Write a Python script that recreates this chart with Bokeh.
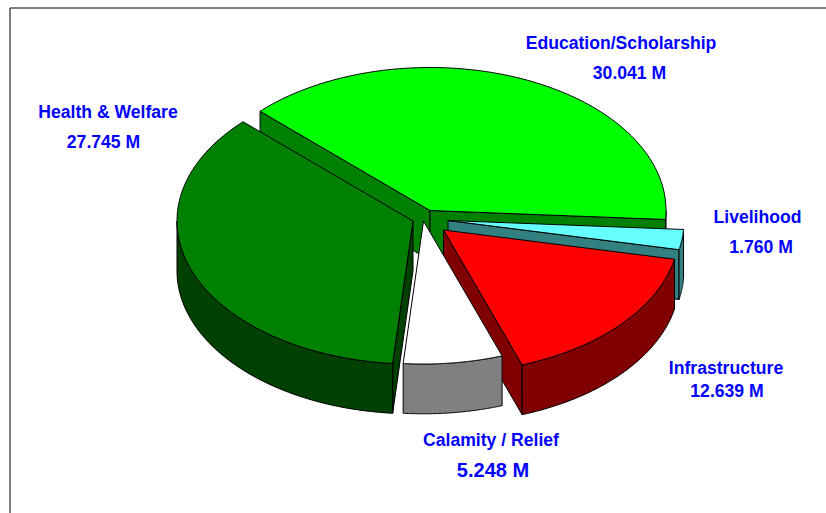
import numpy as np
from bokeh.plotting import figure
from bokeh.models import Range1d
from bokeh.core.properties import value
from bokeh.embed import file_html
from bokeh.resources import INLINE

# ---- data
categories = ["Education/Scholarship", "Health & Welfare", "Calamity / Relief", "Infrastructure", "Livelihood"]
amounts = [30.041, 27.745, 5.248, 12.639, 1.760]

# ---- styling and layout (reference pixels)
top_colors = ["#00FF00", "#008000", "#FFFFFF", "#FF0000", "#66FFFF"]
side_colors = ["#008000", "#004000", "#808080", "#800000", "#338080"]
apex_x = [429.5, 412.5, 423, 443, 447.5]
apex_y = [210, 220.5, 220.5, 229.5, 220]
name_pos = [(620.5, 42.5), (107.5, 111.5), (490.5, 439.5), (725.5, 367.5), (757, 216.5)]
amount_pos = [(629, 72.5), (103, 141.5), (492.5, 469.5), (726.5, 390.5), (760.5, 246.5)]
amount_px = [17.6, 17.6, 20, 17.6, 17.6]
paint_order = [0, 4, 3, 2, 1]
RX, RY, DEPTH = 236.0, 143.0, 49.8
START_DEG = -3.6

p = figure(width=826, height=513, output_backend="svg", toolbar_location=None,
           x_range=Range1d(0, 826), y_range=Range1d(513, 0),
           min_border=0, outline_line_color=None)
p.axis.visible = False
p.grid.visible = False
p.background_fill_color = "#FFFFFF"

# frame lines
p.line([9.5, 9.5, 826], [513, 7.5, 7.5], line_color="#000000", line_width=1)

fractions = np.array(amounts) / sum(amounts)
edges = START_DEG + np.concatenate([[0], np.cumsum(fractions) * 360.0])


def pt(ax, ay, deg):
    r = np.radians(deg)
    return ax + RX * np.cos(r), ay - RY * np.sin(r)


def face(xs, ys, color):
    p.patch(list(xs), list(ys), fill_color=color, line_color="#000000", line_width=1)


def radial_wall(ax, ay, deg, color):
    ex, ey = pt(ax, ay, deg)
    face([ax, ex, ex, ax], [ay, ey, ey + DEPTH, ay + DEPTH], color)


for i in paint_order:
    a0, a1 = edges[i], edges[i + 1]
    ax, ay = apex_x[i], apex_y[i]
    # radial walls that face the viewer
    if np.sin(np.radians(a1 + 90)) < 0:
        radial_wall(ax, ay, a1, side_colors[i])
    if np.sin(np.radians(a0 - 90)) < 0:
        radial_wall(ax, ay, a0, side_colors[i])
    # outer rim: only the front half of the drum shows
    for lo, hi in ((-180.0, 0.0), (180.0, 360.0)):
        b0, b1 = max(a0, lo), min(a1, hi)
        if b1 > b0:
            t = np.linspace(b0, b1, 80)
            x, y = pt(ax, ay, t)
            face(np.r_[x, x[::-1]], np.r_[y, y[::-1] + DEPTH], side_colors[i])
    # top
    t = np.linspace(a0, a1, 160)
    x, y = pt(ax, ay, t)
    face(np.r_[ax, x], np.r_[ay, y], top_colors[i])

# labels
for i, name in enumerate(categories):
    for txt, (tx, ty), size in ((name, name_pos[i], 17.6),
                                (f"{amounts[i]:.3f} M", amount_pos[i], amount_px[i])):
        p.text([tx], [ty], text=[txt], text_font=value("Liberation Sans"), text_font_style="bold",
               text_font_size=f"{size}px", text_color="#0000FF",
               text_align="center", text_baseline="middle")

open("out.html", "w").write(file_html(p, INLINE))
